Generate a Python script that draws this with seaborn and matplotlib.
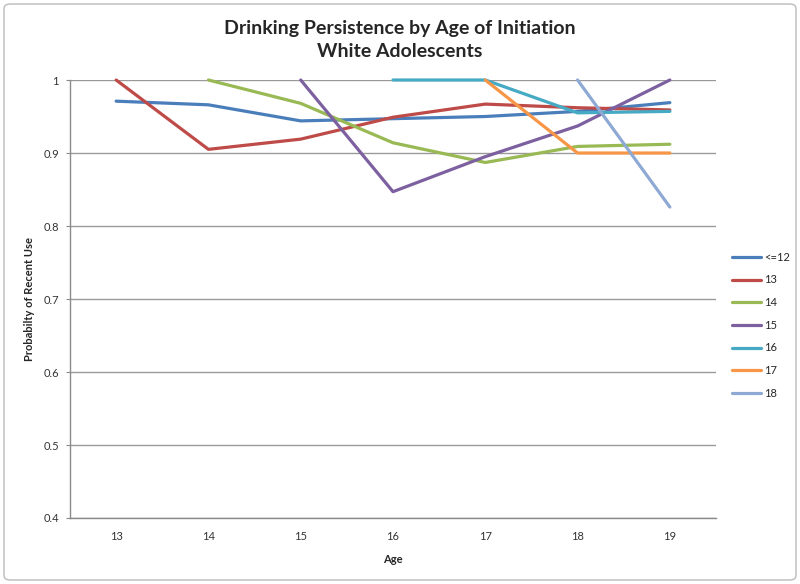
import numpy as np
import pandas as pd
import matplotlib
matplotlib.use("Agg")
import matplotlib.pyplot as plt
import seaborn as sns
from matplotlib.patches import FancyBboxPatch

# Data
ages = [13, 14, 15, 16, 17, 18, 19]
cohorts = ["<=12", "13", "14", "15", "16", "17", "18"]
nan = np.nan
le12 = [0.971, 0.966, 0.944, 0.947, 0.950, 0.957, 0.969]
c13 = [1.000, 0.905, 0.919, 0.949, 0.967, 0.962, 0.959]
c14 = [nan, 1.000, 0.968, 0.914, 0.887, 0.909, 0.912]
c15 = [nan, nan, 1.000, 0.847, 0.895, 0.937, 1.000]
c16 = [nan, nan, nan, 1.000, 1.000, 0.955, 0.957]
c17 = [nan, nan, nan, nan, 1.000, 0.900, 0.900]
c18 = [nan, nan, nan, nan, nan, 1.000, 0.826]
colors = ["#4A7EBB", "#BE4B48", "#98B954", "#7D60A0", "#46AAC5", "#F79646", "#8EA9D3"]

series = [le12, c13, c14, c15, c16, c17, c18]
rows = []
for name, vals in zip(cohorts, series):
    for a, v in zip(ages, vals):
        if not np.isnan(v):
            rows.append({"Age": a, "Initiation": name, "Prob": v})
df = pd.DataFrame(rows)

sns.set_style("white")
plt.rcParams["font.family"] = ["Lato", "DejaVu Sans"]

fig = plt.figure(figsize=(8, 5.84), dpi=100)
ax = fig.add_axes([70 / 800, 1 - 518 / 584, 646 / 800, 438 / 584])

sns.lineplot(data=df, x="Age", y="Prob", hue="Initiation", hue_order=cohorts,
             palette=colors, linewidth=2.3, ax=ax, legend=True)
for ln in ax.lines:
    ln.set_clip_on(False)

ax.set_xlim(12.5, 19.5)
ax.set_ylim(0.4, 1.0)
ax.set_xticks(ages)
ax.set_xticklabels([str(a) for a in ages])
ax.set_yticks([0.4, 0.5, 0.6, 0.7, 0.8, 0.9, 1.0])
ax.set_yticklabels(["0.4", "0.5", "0.6", "0.7", "0.8", "0.9", "1"])
ax.yaxis.grid(True, color="#9A9A9A", linewidth=1)
ax.set_axisbelow(True)
for s in ["top", "right"]:
    ax.spines[s].set_visible(False)
for s in ["left", "bottom"]:
    ax.spines[s].set_color("#8A8A8A")
    ax.spines[s].set_linewidth(1)
ax.tick_params(axis="y", which="major", length=3, color="#8A8A8A", left=True,
               labelsize=8, labelcolor="#333333", pad=5)
ax.tick_params(axis="x", which="major", length=0, labelsize=8,
               labelcolor="#333333", pad=9)

ax.set_xlabel("Age", fontsize=8, fontweight="bold", labelpad=9)
ax.set_ylabel("Probabilty of Recent Use", fontsize=8, fontweight="bold")
ax.yaxis.set_label_coords(-35 / 646, 0.5)

fig.text(0.5, 1 - 40 / 584, "Drinking Persistence by Age of Initiation\nWhite Adolescents",
         ha="center", va="center", fontsize=14, fontweight="bold", linespacing=1.45)

ax.legend(loc="center left", bbox_to_anchor=(1.01, 0.44), frameon=False,
          fontsize=8, handlelength=2.6, handletextpad=0.25, labelspacing=1.05)

fig.patches.append(FancyBboxPatch((4 / 800, 4 / 584), 792 / 800, 576 / 584,
                                  boxstyle="round,pad=0,rounding_size=0.008",
                                  transform=fig.transFigure, fill=False,
                                  edgecolor="#BBBBBB", linewidth=1))

fig.savefig("out.png", dpi=100)
